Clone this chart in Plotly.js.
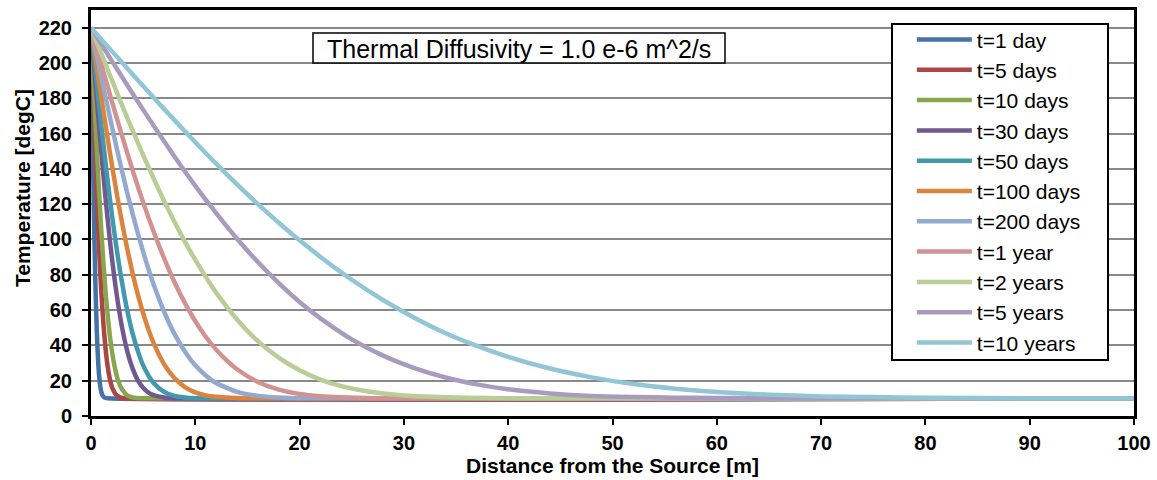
<!DOCTYPE html>
<html>
<head>
<meta charset="utf-8">
<script src="https://cdn.plot.ly/plotly-3.0.1.min.js"></script>
<style>html,body{margin:0;padding:0;background:#fff;}#chart{width:1157px;height:480px;}</style>
</head>
<body>
<div id="chart"></div>
<script>
// Series names and colours
var seriesNames = ["t=1 day","t=5 days","t=10 days","t=30 days","t=50 days","t=100 days","t=200 days","t=1 year","t=2 years","t=5 years","t=10 years"];
var seriesColors = ["#4572A7","#AA4643","#89A54E","#71588F","#4198AF","#DB843D","#93A9CF","#D19392","#B9CD96","#A99BBD","#92C5D6"];

// Distance [m] and temperature [degC]
var x1d = [0,0.05,0.1,0.15,0.2,0.25,0.3,0.35,0.4,0.5,0.6,0.7,0.8,0.9,1.0,1.1,1.3,1.6,100];
var y1d = [220,199.9,180.1,160.9,142.4,125.0,108.8,94.0,80.6,58.2,41.4,29.4,21.5,16.4,13.4,11.7,10.4,10.0,10.0];

var x5d = [0,0.1,0.2,0.3,0.4,0.5,0.6,0.7,0.8,0.9,1.0,1.2,1.4,1.6,1.8,2.0,2.4,2.8,3.5,100];
var y5d = [220,202.0,184.2,166.9,150.1,134.0,118.9,104.9,91.8,80.0,69.2,51.4,37.9,28.0,21.2,16.6,12.1,10.6,10.0,10.0];

var x10d = [0,0.1,0.2,0.3,0.4,0.5,0.6,0.7,0.8,0.9,1.0,1.2,1.4,1.6,1.8,2.0,2.3,2.6,3.0,3.5,4.0,5.0,100];
var y10d = [220,207.3,194.6,182.1,169.8,157.8,146.1,134.8,124.0,113.7,103.9,85.9,70.2,57.0,45.9,37.1,27.0,20.0,14.8,11.6,10.5,10.0,10.0];

var x30d = [0,0.2,0.4,0.6,0.8,1.0,1.2,1.4,1.6,1.8,2.0,2.3,2.6,3.0,3.5,4.0,4.5,5.0,5.5,6.0,7.0,8.0,10,100];
var y30d = [220,205.3,190.7,176.4,162.4,148.7,135.6,123.1,111.3,100.2,89.8,75.7,63.3,49.5,36.2,26.7,20.1,16.0,13.3,11.8,10.5,10.1,10.0,10.0];

var x50d = [0,0.3,0.6,0.9,1.2,1.5,1.8,2.1,2.4,2.8,3.2,3.6,4.0,4.5,5.0,5.5,6.0,7.0,8.0,9.0,10,12,100];
var y50d = [220,203.0,186.0,169.5,153.5,138.1,123.5,109.8,97.1,81.7,68.1,56.4,46.5,36.6,28.7,23.0,18.7,13.7,11.4,10.5,10.1,10.0,10.0];

var x100d = [0,0.25,0.5,0.75,1,1.5,2,2.5,3,3.5,4,4.5,5,5.5,6,7,8,9,10,11,12,14,16,100];
var y100d = [220,210.0,199.9,189.9,180.1,160.9,142.4,125.0,108.8,94.0,80.6,68.6,58.2,49.1,41.4,29.4,21.5,16.4,13.4,11.7,10.9,10.2,10.0,10.0];

var x200d = [0,0.5,1,1.5,2,2.5,3,3.5,4,4.5,5,5.5,6,7,8,9,10,11,12,14,16,18,20,25,100];
var y200d = [220,205.8,191.6,177.7,164.1,150.8,138.1,125.8,114.3,103.3,93.0,83.5,74.6,59.2,46.5,36.6,28.7,23.0,18.7,13.7,11.4,10.5,10.1,10.0,10.0];

var x1y = [0,1,2,3,4,5,6,7,8,9,10,11,12,13,14,16,18,20,22,24,27,30,35,100];
var y1y = [220,199.0,178.3,158.3,139.0,121.0,104.5,89.5,75.9,64.0,53.7,44.9,37.6,31.5,26.5,19.3,14.9,12.5,11.2,10.6,10.1,10.0,10.0,10.0];

var x2y = [0,1,2,3,4,5,6,7,8,9,10,11,12,14,16,18,20,22,24,26,28,30,34,38,42,50,60,100];
var y2y = [220,205.1,190.3,175.7,161.6,147.8,134.6,121.9,110.0,98.8,88.4,78.8,69.9,54.7,42.4,33.1,25.9,20.6,16.9,14.4,12.7,11.6,10.6,10.2,10.0,10.0,10.0,10.0];

var x5y = [0,2,4,6,8,10,12,14,16,18,20,22,25,28,31,34,37,40,44,48,52,56,60,70,80,100];
var y5y = [220,201.2,182.6,164.5,147.0,130.4,114.9,100.4,87.2,75.3,64.6,55.3,43.4,34.2,27.1,21.8,17.9,15.1,12.8,11.4,10.8,10.4,10.2,10.0,10.0,10.0];

var x10y = [0,2,4,6,8,10,12,14,16,18,20,22,25,28,31,34,37,40,44,48,52,56,60,65,70,75,80,90,100];
var y10y = [220,206.7,193.5,180.4,167.6,155.1,142.9,131.2,120.0,109.5,99.5,90.1,77.2,65.7,55.7,46.9,39.7,33.5,26.9,21.9,18.1,15.5,13.6,12.1,11.1,10.7,10.3,10.1,10.0];

var xs = [x1d,x5d,x10d,x30d,x50d,x100d,x200d,x1y,x2y,x5y,x10y];
var ys = [y1d,y5d,y10d,y30d,y50d,y100d,y200d,y1y,y2y,y5y,y10y];

// Axis ticks
var xTicks = [0,10,20,30,40,50,60,70,80,90,100];
var yTicks = [0,20,40,60,80,100,120,140,160,180,200,220];

var FONT = "Liberation Sans, Arial, sans-serif";

var traces = [];
for (var i = 0; i < seriesNames.length; i++) {
  traces.push({
    type: "scatter", mode: "lines",
    x: xs[i], y: ys[i], name: seriesNames[i],
    line: {color: seriesColors[i], width: 4.5, shape: "spline", smoothing: 0.6}
  });
}

var layout = {
  width: 1157, height: 480,
  margin: {l: 91, r: 23, t: 10, b: 64},
  paper_bgcolor: "#fff", plot_bgcolor: "#fff",
  font: {family: FONT, color: "#000"},
  showlegend: true,
  legend: {
    x: 0.787, y: 0.977, xanchor: "left", yanchor: "top",
    bgcolor: "rgba(0,0,0,0)", borderwidth: 0,
    font: {family: FONT, size: 21, color: "#000"},
    itemwidth: 55, tracegroupgap: 0
  },
  xaxis: {
    range: [0, 100], tickvals: xTicks, ticktext: xTicks.map(String),
    showgrid: false, zeroline: false,
    showline: true, linecolor: "#000", linewidth: 3, mirror: true,
    ticks: "outside", ticklen: 6, tickwidth: 2, tickcolor: "#000",
    ticklabelstandoff: 1,
    tickfont: {family: FONT, size: 20, color: "#000", weight: "bold"},
    title: {text: "<b>Distance from the Source [m]</b>", font: {family: FONT, size: 21, color: "#000"}, standoff: 6}
  },
  yaxis: {
    range: [0, 230], tickvals: yTicks, ticktext: yTicks.map(String),
    showgrid: true, gridcolor: "#898989", gridwidth: 2, zeroline: false,
    showline: true, linecolor: "#000", linewidth: 3, mirror: true,
    ticks: "outside", ticklen: 6, tickwidth: 2, tickcolor: "#000",
    ticklabelstandoff: 6,
    tickfont: {family: FONT, size: 20, color: "#000", weight: "bold"}
  },
  shapes: [
    {type: "rect", xref: "paper", yref: "paper", layer: "above",
     x0: (892-91)/1043, x1: (1108-91)/1043, y0: (416-360)/406, y1: (416-24)/406,
     fillcolor: "#fff", line: {color: "#000", width: 2}},
    {type: "rect", xref: "paper", yref: "paper", layer: "above",
     x0: (313-91)/1043, x1: (725-91)/1043, y0: (416-63)/406, y1: (416-33)/406,
     fillcolor: "#fff", line: {color: "#000", width: 1.5}}
  ],
  annotations: [
    {xref: "paper", yref: "paper", x: (519-91)/1043, y: (416-49)/406,
     xanchor: "center", yanchor: "middle", showarrow: false,
     text: "Thermal Diffusivity = 1.0 e-6 m^2/s",
     font: {family: FONT, size: 25, color: "#000"}},
    {xref: "paper", yref: "paper", x: (22-91)/1043, y: (416-188)/406,
     xanchor: "center", yanchor: "middle", showarrow: false, textangle: -90,
     text: "<b>Temperature [degC]</b>",
     font: {family: FONT, size: 21, color: "#000"}}
  ]
};

Plotly.newPlot("chart", traces, layout, {displayModeBar: false, staticPlot: true});
</script>
</body>
</html>
